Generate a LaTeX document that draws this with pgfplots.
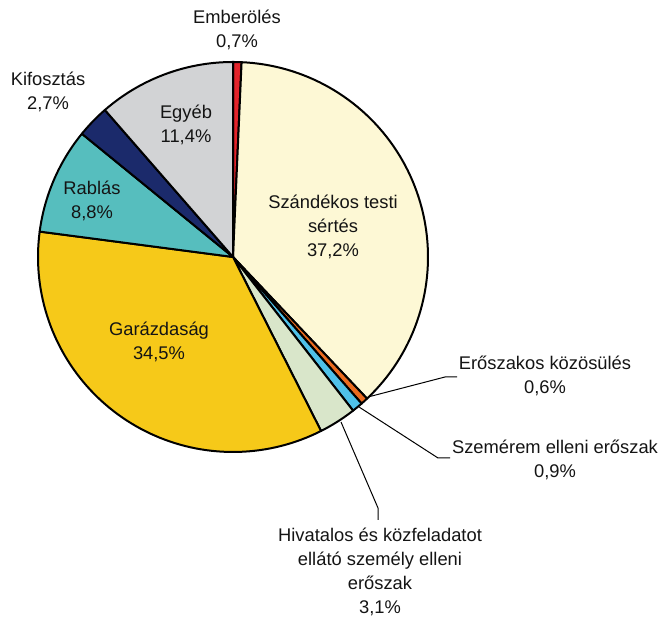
\documentclass[border=0pt]{standalone}
\usepackage{pgfplots}
\pgfplotsset{compat=1.18}
\usepackage{fontspec}
\setmainfont{Liberation Sans}
\definecolor{cEmb}{HTML}{E3242B}
\definecolor{cSzt}{HTML}{FDF8D5}
\definecolor{cEro}{HTML}{EA6B1F}
\definecolor{cSzem}{HTML}{4FC1E9}
\definecolor{cHiv}{HTML}{D9E6CA}
\definecolor{cGar}{HTML}{F6C919}
\definecolor{cRab}{HTML}{56BEBE}
\definecolor{cKif}{HTML}{1B2A6B}
\definecolor{cEgy}{HTML}{D2D3D5}
% shares (percent), clockwise from 12 o'clock; cumulative bounds used below
% Emberoles 0.7, Szandekos 37.2, Eroszakos 0.6, Szemerem 0.9, Hivatalos 3.1,
% Garazdasag 34.5, Rablas 8.8, Kifosztas 2.7, Egyeb 11.4  (sum 99.9)
\newcommand{\slice}[3]{%
  \addplot[fill=#1, draw=black, line width=1.2pt, line join=round,
    domain=#2:#3, samples=80, variable=\t]
    ({233+195*cos(90-360/99.9*\t)}, {364+195*sin(90-360/99.9*\t)})
    -- (axis cs:233,364) -- cycle;}
\tikzset{lbl/.style={font=\fontsize{11}{14.3}\selectfont, align=center, text=black!92, inner sep=0pt}}
\begin{document}
\begin{tikzpicture}
\begin{axis}[
  scale only axis, width=399pt, height=372.6pt,
  xmin=0, xmax=665, ymin=0, ymax=621,
  hide axis, clip=false,
]
\path (axis cs:0,0) rectangle (axis cs:665,621);
\slice{cEmb}{0}{0.7}
\slice{cSzt}{0.7}{37.9}
\slice{cEro}{37.9}{38.5}
\slice{cSzem}{38.5}{39.4}
\slice{cHiv}{39.4}{42.5}
\slice{cGar}{42.5}{77.0}
\slice{cRab}{77.0}{85.8}
\slice{cKif}{85.8}{88.5}
\slice{cEgy}{88.5}{99.9}
% leader lines
\addplot[black, line width=0.6pt] coordinates {(368,224) (445,244) (457,244)};
\addplot[black, line width=0.6pt] coordinates {(359,214) (438,163) (450,163)};
\addplot[black, line width=0.6pt] coordinates {(341,199) (378,113) (378,101)};
% labels
\node[lbl] at (axis cs:237,591) {Emberölés\\0,7\%};
\node[lbl] at (axis cs:48,529) {Kifosztás\\2,7\%};
\node[lbl] at (axis cs:186,496) {Egyéb\\11,4\%};
\node[lbl] at (axis cs:92,420) {Rablás\\8,8\%};
\node[lbl] at (axis cs:333,394) {Szándékos testi\\sértés\\37,2\%};
\node[lbl] at (axis cs:159,279) {Garázdaság\\34,5\%};
\node[lbl] at (axis cs:545,245) {Erőszakos közösülés\\0,6\%};
\node[lbl] at (axis cs:555,161) {Szemérem elleni erőszak\\0,9\%};
\node[lbl] at (axis cs:380,49) {Hivatalos és közfeladatot\\ellátó személy elleni\\erőszak\\3,1\%};
\end{axis}
\end{tikzpicture}
\end{document}
